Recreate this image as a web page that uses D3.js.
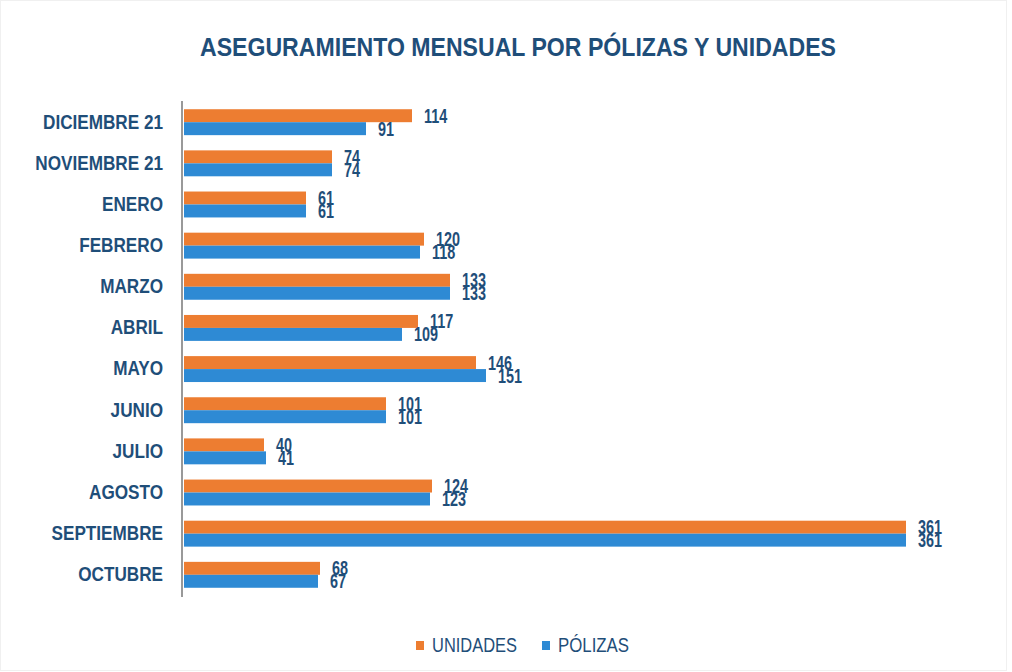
<!DOCTYPE html>
<html><head><meta charset="utf-8">
<script src="https://cdn.jsdelivr.net/npm/d3@7"></script>
<style>
html,body{margin:0;padding:0;background:#fff;}
svg{display:block;}
text{font-family:"Liberation Sans Narrow","Arial Narrow","Liberation Sans",Arial,sans-serif;}
</style></head>
<body>
<svg id="chart" width="1012" height="672"></svg>
<script>
const categories = ["DICIEMBRE 21","NOVIEMBRE 21","ENERO","FEBRERO","MARZO","ABRIL","MAYO","JUNIO","JULIO","AGOSTO","SEPTIEMBRE","OCTUBRE"];
const unidades = [114,74,61,120,133,117,146,101,40,124,361,68];
const polizas  = [91,74,61,118,133,109,151,101,41,123,361,67];
const seriesNames = ["UNIDADES","PÓLIZAS"];
const colors = ["#ED7D31","#2E8AD4"];
const title = "ASEGURAMIENTO MENSUAL POR PÓLIZAS Y UNIDADES";

const svg = d3.select("#chart");
const textColor = "#1F4E79";
const x = d3.scaleLinear().domain([0,361]).range([184,906]);
const y = d3.scaleBand().domain(categories).range([101,596]).paddingInner(0.37).paddingOuter(0.2);
const sub = d3.scaleBand().domain(seriesNames).range([0,y.bandwidth()]);

function condense(sel,k){
  sel.each(function(){
    const w = this.getComputedTextLength();
    d3.select(this).attr("textLength",w*k).attr("lengthAdjust","spacingAndGlyphs");
  });
}

svg.append("rect").attr("x",0.5).attr("y",0.5).attr("width",1006).attr("height",670).attr("fill","#fff").attr("stroke","#f0f0f0");

const t = svg.append("text").attr("x",518).attr("y",56).attr("text-anchor","middle")
  .attr("font-size",25).attr("font-weight","bold").attr("fill",textColor).text(title);
condense(t, 636 / t.node().getComputedTextLength());

const series = [unidades, polizas];
series.forEach((vals,si)=>{
  svg.append("g").selectAll("rect").data(vals).join("rect")
    .attr("x",x(0)).attr("y",(d,i)=>y(categories[i])+sub(seriesNames[si]))
    .attr("width",d=>x(d)-x(0)).attr("height",sub.bandwidth())
    .attr("fill",colors[si]);
  const lab = svg.append("g").selectAll("text").data(vals).join("text")
    .attr("x",d=>x(d)+12).attr("y",(d,i)=>y(categories[i])+sub(seriesNames[si])+sub.bandwidth()/2+7)
    .attr("font-size",20).attr("font-weight","bold").attr("fill",textColor).attr("text-anchor","start")
    .text(d=>d);
  condense(lab,0.72);
});

// axis
const yAxis = d3.axisLeft(y).tickSize(0).tickPadding(19);
const ag = svg.append("g").attr("transform",`translate(182,0)`).call(yAxis);
ag.select(".domain").attr("stroke","#777").attr("stroke-width",1.5).attr("d",`M0,101V597`);
const ticks = ag.selectAll("text").attr("font-size",20).attr("fill",textColor).attr("font-weight","bold")
  .style("font-family",'"Liberation Sans Narrow","Arial Narrow","Liberation Sans",Arial,sans-serif');
let kLab = 1;
ticks.each(function(d){ if(d===categories[0]) kLab = 120/this.getComputedTextLength(); });
condense(ticks,kLab);

// legend
const leg = svg.append("g");
const legItems = [{n:seriesNames[0],c:colors[0],x:416},{n:seriesNames[1],c:colors[1],x:542}];
legItems.forEach((it,i)=>{
  leg.append("rect").attr("x",it.x).attr("y",641).attr("width",8).attr("height",9).attr("fill",it.c);
  const lt = leg.append("text").attr("x",it.x+16).attr("y",652).attr("font-size",20).attr("fill",textColor).text(it.n);
  if(i===0) condense(lt, 85/lt.node().getComputedTextLength());
  else condense(lt, 71/lt.node().getComputedTextLength());
});
</script>
</body></html>
